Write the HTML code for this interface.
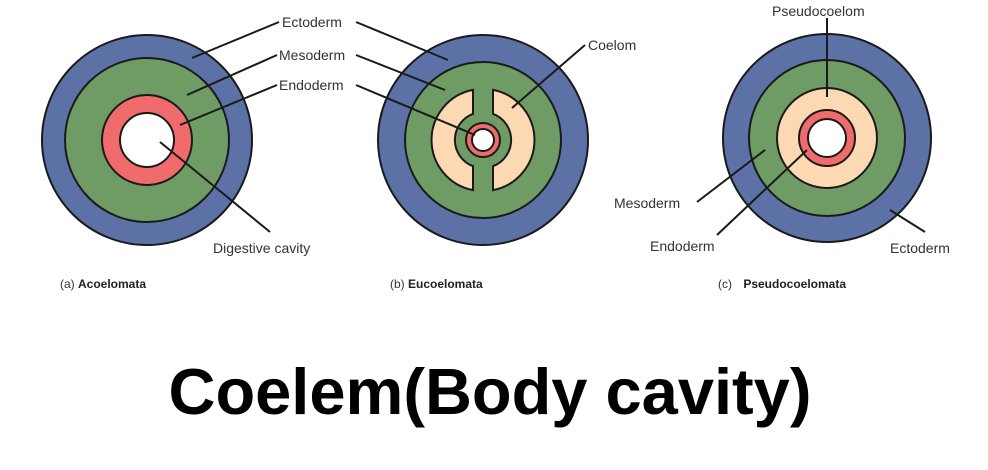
<!DOCTYPE html>
<html><head><meta charset="utf-8"><style>
html,body{margin:0;padding:0;background:#fff;}
svg{display:block}
text{font-family:"Liberation Sans",Arial,sans-serif;fill:#333;}
</style></head><body>
<svg width="988" height="470" viewBox="0 0 988 470" xmlns="http://www.w3.org/2000/svg">
<g stroke="#1a1a1a" stroke-width="2">
<circle cx="147" cy="140" r="105" fill="#5c71a6"/>
<circle cx="147" cy="140" r="82" fill="#6f9b64"/>
<circle cx="147" cy="140" r="45" fill="#f06b6b"/>
<circle cx="147" cy="140" r="27" fill="#fff"/>
<circle cx="483" cy="140" r="105" fill="#5c71a6"/>
<circle cx="483" cy="140" r="78" fill="#6f9b64"/>
<path d="M473,89.9 A51,51 0 0 0 473,190.1 L473,166.2 A28,28 0 0 1 473,113.8 Z" fill="#fcd9b2"/>
<path d="M493,89.9 A51,51 0 0 1 493,190.1 L493,166.2 A28,28 0 0 0 493,113.8 Z" fill="#fcd9b2"/>
<circle cx="483" cy="140" r="17" fill="#f06b6b"/>
<circle cx="483" cy="140" r="11" fill="#fff"/>
<circle cx="827" cy="138" r="104" fill="#5c71a6"/>
<circle cx="827" cy="138" r="78" fill="#6f9b64"/>
<circle cx="827" cy="138" r="50" fill="#fcd9b2"/>
<circle cx="827" cy="138" r="28" fill="#f06b6b"/>
<circle cx="827" cy="138" r="19" fill="#fff"/>
</g>
<g stroke="#1a1a1a" stroke-width="2" fill="none">
<line x1="279" y1="22" x2="192" y2="58"/>
<line x1="277" y1="55" x2="187" y2="95"/>
<line x1="277" y1="85" x2="180" y2="125"/>
<line x1="356" y1="22" x2="448" y2="60"/>
<line x1="356" y1="55" x2="445" y2="90"/>
<line x1="356" y1="85" x2="475" y2="135"/>
<line x1="270" y1="232" x2="160" y2="142"/>
<line x1="585" y1="45" x2="512" y2="108"/>
<line x1="827" y1="18" x2="827" y2="97"/>
<line x1="697" y1="202" x2="765" y2="150"/>
<line x1="717" y1="235" x2="807" y2="150"/>
<line x1="925" y1="232" x2="890" y2="210"/>
</g>
<g font-size="14">
<text x="282" y="27">Ectoderm</text>
<text x="279" y="60">Mesoderm</text>
<text x="279" y="90">Endoderm</text>
<text x="213" y="253">Digestive cavity</text>
<text x="588" y="50">Coelom</text>
<text x="772" y="16">Pseudocoelom</text>
<text x="614" y="208">Mesoderm</text>
<text x="650" y="251">Endoderm</text>
<text x="890" y="253">Ectoderm</text>
</g>
<g font-size="12">
<text x="60" y="288">(a) <tspan font-weight="bold" fill="#222">Acoelomata</tspan></text>
<text x="390" y="288">(b) <tspan font-weight="bold" fill="#222">Eucoelomata</tspan></text>
<text x="718" y="288">(c) <tspan dx="8" font-weight="bold" fill="#222">Pseudocoelomata</tspan></text>
</g>
<text x="490" y="414" font-size="65" font-weight="bold" text-anchor="middle" style="fill:#000">Coelem(Body cavity)</text>
</svg>
</body></html>
